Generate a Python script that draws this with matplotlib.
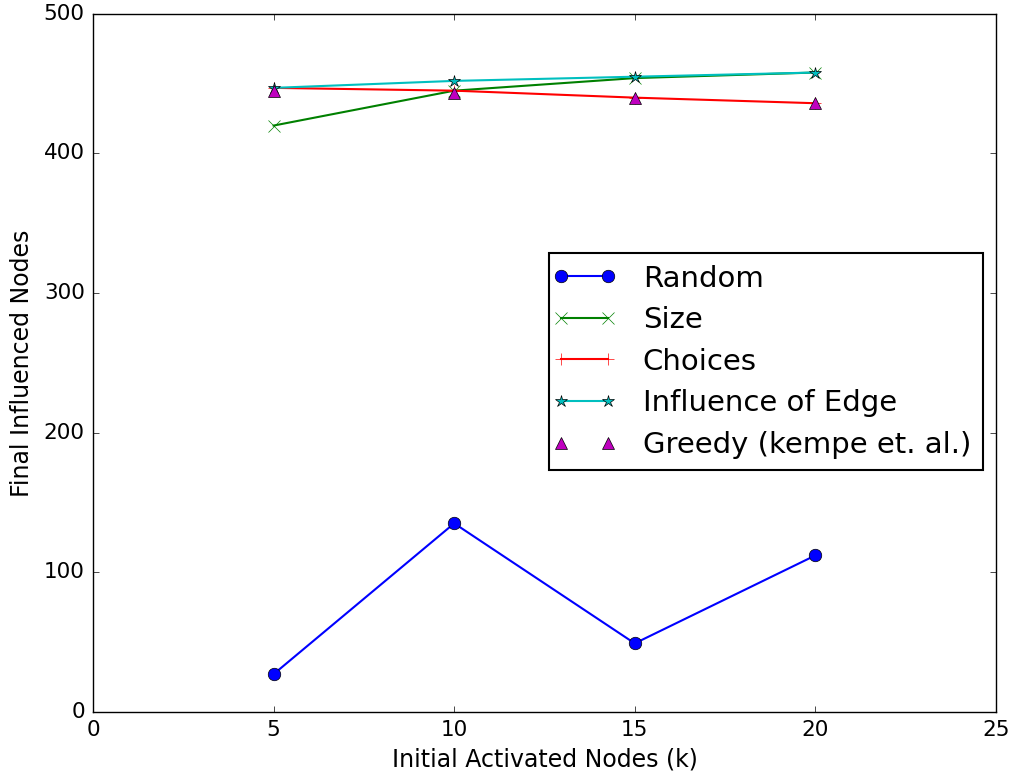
import matplotlib
matplotlib.use("Agg")
import matplotlib.pyplot as plt
from matplotlib.lines import Line2D
from matplotlib.legend_handler import HandlerLine2D

plt.style.use("classic")

k = [5, 10, 15, 20]
random_vals = [27, 135, 49, 112]
size_vals = [420, 445, 454, 458]
choices_vals = [447, 445, 440, 436]
influence_vals = [447, 452, 455, 458]
greedy_vals = [445, 443, 440, 436]

fig = plt.figure(figsize=(10.12, 7.72), dpi=100, facecolor="white")
ax = fig.add_axes([0.092, 0.078, 0.892, 0.904])

lw = 1.5
ax.plot(k, random_vals, "b-o", lw=lw, markersize=9, label="Random")
ax.plot(k, size_vals, "g-x", lw=lw, markersize=9, label="Size")
ax.plot(k, choices_vals, "r-+", lw=lw, markersize=8, label="Choices")
ax.plot(k, influence_vals, "c-*", lw=lw, markersize=9, label="Influence of Edge")
ax.plot(k, greedy_vals, "m^", linestyle="none", markersize=9, label="Greedy (kempe et. al.)")

ax.set_xlim(0, 25)
ax.set_ylim(0, 500)
ax.tick_params(labelsize=15.5, pad=6)
ax.set_xlabel("Initial Activated Nodes (k)", fontsize=17, labelpad=5)
ax.set_ylabel("Final Influenced Nodes", fontsize=17, labelpad=7)

leg = ax.legend(loc="upper right", bbox_to_anchor=(0.9856, 0.6576), fontsize=21,
                numpoints=2, borderpad=0.4, labelspacing=0.465, handlelength=1.6,
                handletextpad=1.2, borderaxespad=0,
                handler_map={Line2D: HandlerLine2D(marker_pad=0, numpoints=2)})
leg.get_frame().set_linewidth(1.5)

fig.savefig("out.png", dpi=100, facecolor="white")
